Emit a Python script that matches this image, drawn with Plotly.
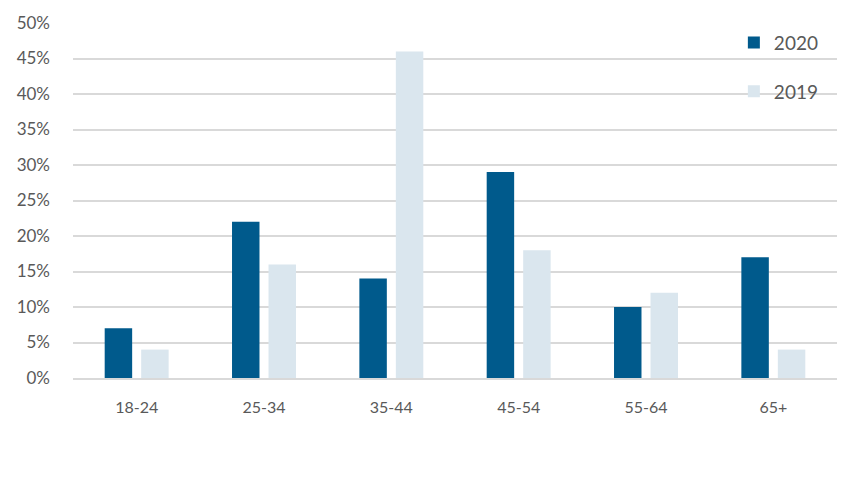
import plotly.graph_objects as go

categories = ["18-24", "25-34", "35-44", "45-54", "55-64", "65+"]
values_2020 = [7, 22, 14, 29, 10, 17]
values_2019 = [4, 16, 46, 18, 12, 4]
y_ticks = [0, 5, 10, 15, 20, 25, 30, 35, 40, 45, 50]
y_tick_labels = [f"{v}%" for v in y_ticks]

FONT = "Lato"
TXT = "#595959"

fig = go.Figure()
fig.add_trace(go.Bar(name="2020", x=categories, y=values_2020,
                     marker=dict(color="#005A8C", line=dict(width=0)),
                     legendgroup="a"))
fig.add_trace(go.Bar(name="2019", x=categories, y=values_2019,
                     marker=dict(color="#DAE6EE", line=dict(width=0)),
                     legendgroup="b"))

fig.update_layout(
    width=862, height=479,
    margin=dict(l=65, r=33, t=15, b=109),
    paper_bgcolor="white", plot_bgcolor="white",
    barmode="group", bargap=0.427, bargroupgap=0.247,
    font=dict(family=FONT, size=16, color=TXT),
    legend=dict(x=0.865, y=0.998, xanchor="left", yanchor="top",
                traceorder="grouped", tracegroupgap=21,
                font=dict(family=FONT, size=19, color=TXT),
                bgcolor="rgba(0,0,0,0)"),
    xaxis=dict(showgrid=False, showline=True, linecolor="#D9D9D9", linewidth=1.5,
               ticks="", ticklabelstandoff=14, automargin=False,
               tickfont=dict(family=FONT, size=16, color=TXT)),
    yaxis=dict(range=[0, 50], tickmode="array", tickvals=y_ticks, ticktext=y_tick_labels,
               showgrid=True, gridcolor="#D9D9D9", gridwidth=1.5,
               zeroline=False, showline=False, ticks="", ticklabelstandoff=22,
               automargin=False,
               tickfont=dict(family=FONT, size=17, color=TXT)),
)

fig.write_html("out.html")
